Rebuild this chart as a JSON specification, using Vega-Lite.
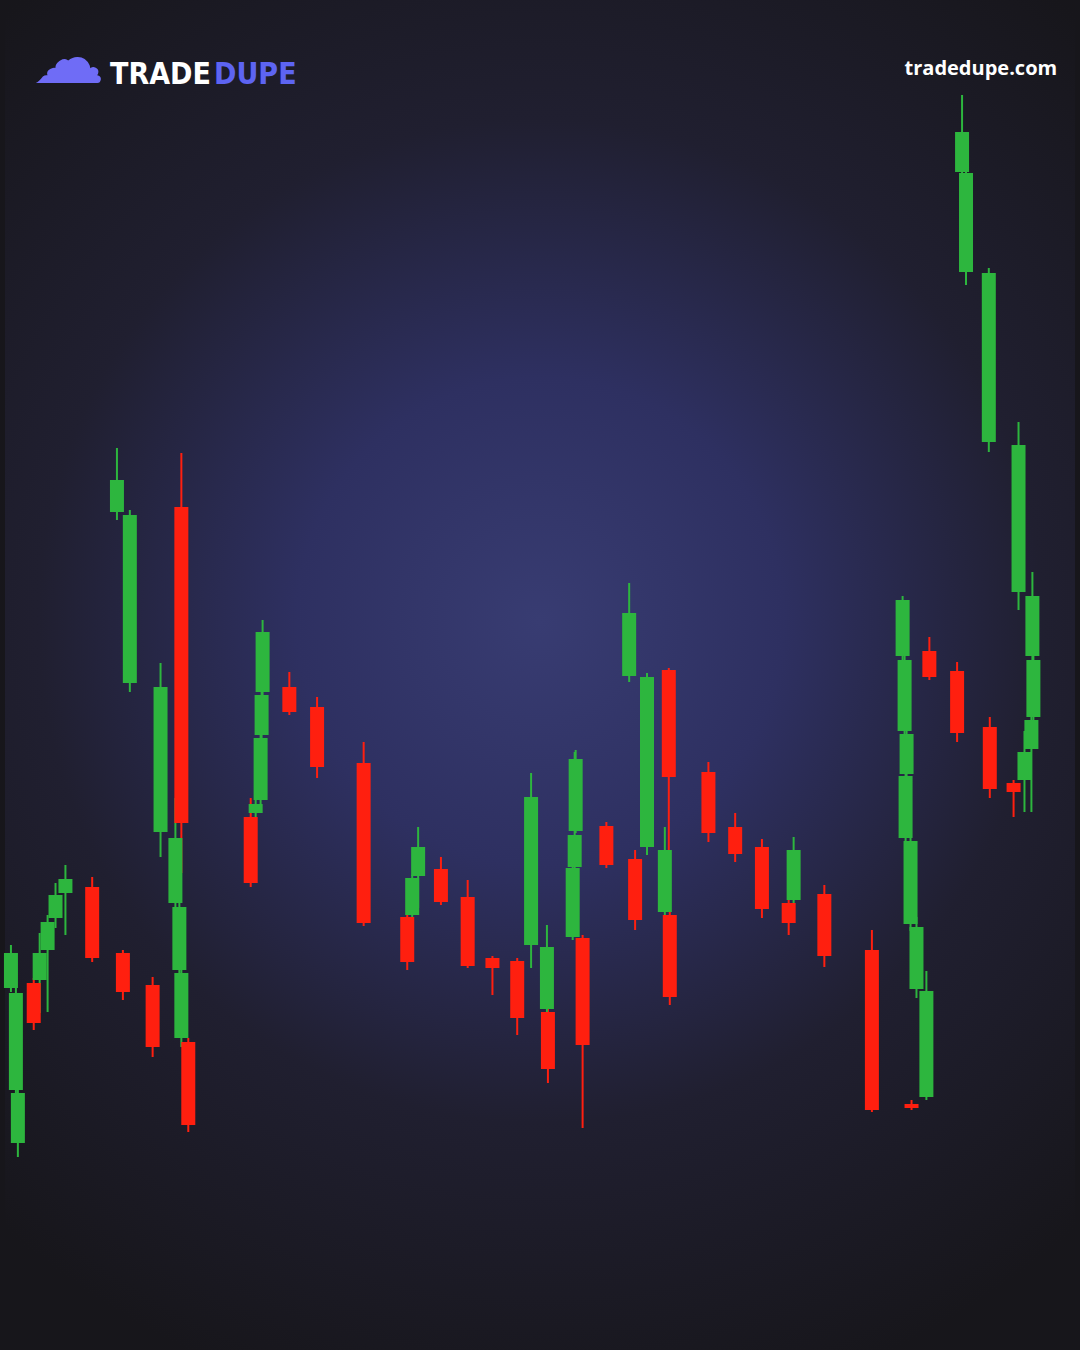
{
  "$schema": "https://vega.github.io/schema/vega-lite/v6.json",
  "width": 1080,
  "height": 1350,
  "autosize": {"type": "fit", "contains": "padding"},
  "padding": 0,
  "background": "#17161b",
  "config": {"view": {"stroke": null}},
  "datasets": {
    "candles": [
      {"t": 0.6, "o": 36.2, "h": 40.5, "l": 35.8, "c": 39.7},
      {"t": 1.1, "o": 26.0, "h": 36.2, "l": 25.3, "c": 35.7},
      {"t": 1.3, "o": 20.7, "h": 27.0, "l": 19.3, "c": 25.7},
      {"t": 2.9, "o": 36.7, "h": 37.2, "l": 32.0, "c": 32.7},
      {"t": 3.5, "o": 37.0, "h": 41.7, "l": 33.7, "c": 39.7},
      {"t": 4.3, "o": 40.0, "h": 43.5, "l": 33.8, "c": 42.8},
      {"t": 5.1, "o": 43.2, "h": 46.7, "l": 42.2, "c": 45.5},
      {"t": 6.1, "o": 45.7, "h": 48.5, "l": 41.5, "c": 47.1},
      {"t": 8.8, "o": 46.3, "h": 47.3, "l": 38.8, "c": 39.2},
      {"t": 11.9, "o": 39.7, "h": 40.0, "l": 35.0, "c": 35.8},
      {"t": 14.9, "o": 36.5, "h": 37.3, "l": 29.3, "c": 30.3},
      {"t": 18.5, "o": 30.8, "h": 31.2, "l": 21.8, "c": 22.5},
      {"t": 17.8, "o": 31.2, "h": 39.5, "l": 30.3, "c": 37.7},
      {"t": 17.6, "o": 38.0, "h": 45.3, "l": 37.0, "c": 44.3},
      {"t": 17.2, "o": 44.7, "h": 55.2, "l": 40.2, "c": 51.2},
      {"t": 15.7, "o": 51.8, "h": 68.7, "l": 49.3, "c": 66.3},
      {"t": 12.6, "o": 66.7, "h": 84.0, "l": 65.8, "c": 83.5},
      {"t": 11.3, "o": 83.8, "h": 90.2, "l": 83.0, "c": 87.0},
      {"t": 17.8, "o": 84.3, "h": 89.7, "l": 47.7, "c": 52.7},
      {"t": 24.8, "o": 53.3, "h": 55.2, "l": 46.3, "c": 46.7},
      {"t": 25.3, "o": 53.7, "h": 58.7, "l": 52.8, "c": 54.6},
      {"t": 25.8, "o": 55.0, "h": 64.3, "l": 54.3, "c": 61.2},
      {"t": 25.9, "o": 61.5, "h": 65.8, "l": 57.7, "c": 65.5},
      {"t": 26.0, "o": 65.8, "h": 73.0, "l": 65.3, "c": 71.8},
      {"t": 28.7, "o": 66.3, "h": 67.8, "l": 63.5, "c": 63.8},
      {"t": 31.5, "o": 64.3, "h": 65.3, "l": 57.2, "c": 58.3},
      {"t": 36.2, "o": 58.7, "h": 60.8, "l": 42.4, "c": 42.7},
      {"t": 40.6, "o": 43.3, "h": 43.6, "l": 38.0, "c": 38.8},
      {"t": 41.1, "o": 43.5, "h": 47.5, "l": 43.3, "c": 47.2},
      {"t": 41.7, "o": 47.4, "h": 52.3, "l": 44.2, "c": 50.3},
      {"t": 44.0, "o": 48.1, "h": 49.3, "l": 44.5, "c": 44.8},
      {"t": 46.7, "o": 45.3, "h": 47.0, "l": 38.2, "c": 38.4},
      {"t": 49.2, "o": 39.2, "h": 39.4, "l": 35.5, "c": 38.2},
      {"t": 51.7, "o": 38.9, "h": 39.2, "l": 31.5, "c": 33.2},
      {"t": 54.8, "o": 33.8, "h": 37.0, "l": 26.7, "c": 28.1},
      {"t": 54.7, "o": 34.1, "h": 42.5, "l": 33.3, "c": 40.3},
      {"t": 53.1, "o": 40.5, "h": 57.7, "l": 38.2, "c": 55.3},
      {"t": 57.3, "o": 41.3, "h": 50.0, "l": 41.0, "c": 48.2},
      {"t": 57.5, "o": 48.3, "h": 59.8, "l": 48.1, "c": 51.5},
      {"t": 57.6, "o": 51.9, "h": 60.0, "l": 51.7, "c": 59.1},
      {"t": 58.3, "o": 41.2, "h": 41.5, "l": 22.2, "c": 30.5},
      {"t": 60.7, "o": 52.4, "h": 52.8, "l": 48.2, "c": 48.5},
      {"t": 63.6, "o": 49.1, "h": 50.0, "l": 42.0, "c": 43.0},
      {"t": 66.6, "o": 43.8, "h": 52.3, "l": 43.0, "c": 50.0},
      {"t": 67.1, "o": 43.5, "h": 43.8, "l": 34.5, "c": 35.3},
      {"t": 63.0, "o": 67.4, "h": 76.7, "l": 66.8, "c": 73.7},
      {"t": 64.8, "o": 50.3, "h": 67.7, "l": 49.5, "c": 67.3},
      {"t": 67.0, "o": 68.0, "h": 68.2, "l": 49.2, "c": 57.3},
      {"t": 71.0, "o": 57.8, "h": 58.8, "l": 50.8, "c": 51.7},
      {"t": 73.7, "o": 52.3, "h": 53.7, "l": 48.8, "c": 49.6},
      {"t": 76.4, "o": 50.3, "h": 51.1, "l": 43.2, "c": 44.1},
      {"t": 79.6, "o": 45.0, "h": 51.3, "l": 43.7, "c": 50.0},
      {"t": 79.1, "o": 44.7, "h": 45.8, "l": 41.5, "c": 42.7},
      {"t": 82.7, "o": 45.6, "h": 46.5, "l": 38.3, "c": 39.4},
      {"t": 87.5, "o": 40.0, "h": 42.0, "l": 23.8, "c": 24.0},
      {"t": 91.5, "o": 24.6, "h": 25.0, "l": 24.0, "c": 24.2},
      {"t": 93.0, "o": 25.3, "h": 37.9, "l": 25.0, "c": 35.9},
      {"t": 92.0, "o": 36.1, "h": 43.3, "l": 35.2, "c": 42.3},
      {"t": 91.4, "o": 42.6, "h": 51.5, "l": 41.9, "c": 50.9},
      {"t": 90.9, "o": 51.2, "h": 58.3, "l": 49.9, "c": 57.4},
      {"t": 91.0, "o": 57.6, "h": 62.5, "l": 56.0, "c": 61.6},
      {"t": 90.8, "o": 61.9, "h": 70.1, "l": 61.0, "c": 69.0},
      {"t": 90.6, "o": 69.4, "h": 75.4, "l": 67.6, "c": 75.0},
      {"t": 93.3, "o": 69.9, "h": 71.3, "l": 67.0, "c": 67.3},
      {"t": 96.1, "o": 67.9, "h": 68.8, "l": 60.8, "c": 61.7},
      {"t": 99.4, "o": 62.3, "h": 63.3, "l": 55.2, "c": 56.1},
      {"t": 101.8, "o": 56.7, "h": 57.0, "l": 53.3, "c": 55.8},
      {"t": 102.9, "o": 57.0, "h": 61.9, "l": 53.8, "c": 59.8},
      {"t": 103.6, "o": 60.1, "h": 63.5, "l": 53.8, "c": 63.0},
      {"t": 103.8, "o": 63.3, "h": 72.2, "l": 62.0, "c": 69.0},
      {"t": 103.7, "o": 69.4, "h": 77.8, "l": 68.5, "c": 75.4},
      {"t": 102.3, "o": 75.8, "h": 92.8, "l": 74.0, "c": 90.5},
      {"t": 99.3, "o": 90.8, "h": 108.2, "l": 89.8, "c": 107.7},
      {"t": 97.0, "o": 107.8, "h": 121.0, "l": 106.5, "c": 117.7},
      {"t": 96.6, "o": 117.8, "h": 125.5, "l": 114.0, "c": 121.8}
    ],
    "bg": [{"a": 0}]
  },
  "layer": [
    {
      "data": {"name": "bg"},
      "mark": {
        "type": "rect",
        "fill": {
          "gradient": "radial",
          "x1": 0.5, "y1": 0.46, "r1": 0,
          "x2": 0.5, "y2": 0.46, "r2": 0.6,
          "stops": [
            {"offset": 0, "color": "#383c72"},
            {"offset": 0.3, "color": "#2e3061"},
            {"offset": 0.62, "color": "#201f30"},
            {"offset": 1, "color": "#17161b"}
          ]
        }
      },
      "encoding": {
        "x": {"datum": 0, "type": "quantitative", "scale": {"domain": [0, 108], "nice": false, "zero": false}, "axis": null},
        "x2": {"datum": 108},
        "y": {"datum": 0, "type": "quantitative", "scale": {"domain": [0, 135], "nice": false, "zero": false}, "axis": null},
        "y2": {"datum": 135}
      }
    },
    {
      "data": {"name": "candles"},
      "mark": {"type": "rule", "strokeWidth": 2},
      "encoding": {
        "x": {"field": "t", "type": "quantitative"},
        "y": {"field": "l", "type": "quantitative"},
        "y2": {"field": "h"},
        "color": {"condition": {"test": "datum.c >= datum.o", "value": "#2db63e"}, "value": "#ff1f0f"}
      }
    },
    {
      "data": {"name": "candles"},
      "mark": {"type": "bar", "width": 14},
      "encoding": {
        "x": {"field": "t", "type": "quantitative"},
        "y": {"field": "o", "type": "quantitative"},
        "y2": {"field": "c"},
        "color": {"condition": {"test": "datum.c >= datum.o", "value": "#2db63e"}, "value": "#ff1f0f"}
      }
    },
    {
      "data": {"name": "bg"},
      "mark": {"type": "text", "text": "☁", "font": "DejaVu Sans", "fontSize": 72, "align": "center", "baseline": "middle", "fill": "#6f6cf6"},
      "encoding": {
        "x": {"datum": 6.4, "type": "quantitative"},
        "y": {"datum": 128.9, "type": "quantitative"}
      }
    },
    {
      "data": {"name": "bg"},
      "mark": {"type": "text", "text": "TRADE", "font": "DejaVu Sans Condensed, DejaVu Sans, sans-serif", "fontWeight": "bold", "fontSize": 30, "align": "left", "baseline": "alphabetic", "fill": "#ffffff"},
      "encoding": {
        "x": {"datum": 10.6, "type": "quantitative"},
        "y": {"datum": 126.6, "type": "quantitative"}
      }
    },
    {
      "data": {"name": "bg"},
      "mark": {"type": "text", "text": "DUPE", "font": "DejaVu Sans Condensed, DejaVu Sans, sans-serif", "fontWeight": "bold", "fontSize": 30, "align": "left", "baseline": "alphabetic", "fill": "#5d64f2"},
      "encoding": {
        "x": {"datum": 21.1, "type": "quantitative"},
        "y": {"datum": 126.6, "type": "quantitative"}
      }
    },
    {
      "data": {"name": "bg"},
      "mark": {"type": "text", "text": "tradedupe.com", "font": "Open Sans", "fontWeight": "bold", "fontSize": 20, "align": "right", "baseline": "alphabetic", "fill": "#ffffff"},
      "encoding": {
        "x": {"datum": 106.2, "type": "quantitative"},
        "y": {"datum": 127.5, "type": "quantitative"}
      }
    }
  ]
}
